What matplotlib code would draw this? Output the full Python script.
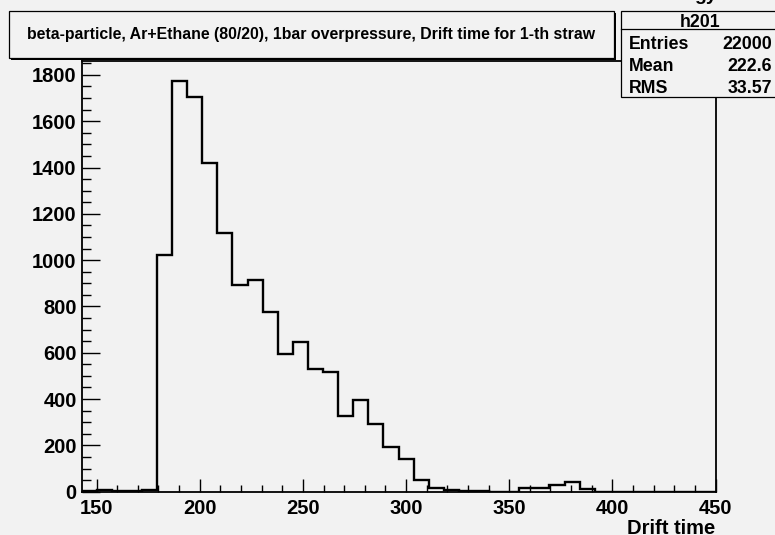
import numpy as np
import matplotlib.pyplot as plt
from matplotlib.patches import Rectangle
from matplotlib.ticker import MultipleLocator

# h201: drift time histogram, 42 bins
x_min, x_max = 142.7, 450.0
counts = [2, 6, 4, 5, 7,
          1022, 1774, 1706, 1418, 1116, 891, 914, 775, 595, 648,
          531, 517, 328, 396, 291, 193, 141, 50, 15, 8,
          5, 2, 0, 0, 17, 17, 28, 40, 10, 0,
          0, 0, 0, 0, 0, 0, 0]
y_max = 1860

title_text = "beta-particle, Ar+Ethane (80/20), 1bar overpressure, Drift time for 1-th straw"
hist_name = "h201"
stat_labels = ["Entries", "Mean", "RMS"]
stat_values = ["22000", "222.6", "33.57"]
x_label = "Drift time"

W, H = 775, 535
bg = '#f2f2f2'
plt.rcParams['font.family'] = ['Liberation Sans', 'DejaVu Sans']
plt.rcParams['font.weight'] = 'bold'


def fx(px):
    return px / W


def fy(py):
    return 1 - py / H


fig = plt.figure(figsize=(W / 100, H / 100), dpi=100, facecolor=bg)
ax = fig.add_axes([fx(81.5), fy(491.7), fx(715.5) - fx(81.5), fy(61) - fy(491.7)])
ax.set_facecolor(bg)

edges = np.linspace(x_min, x_max, len(counts) + 1)
ax.stairs(counts, edges, color='black', lw=1.7)

ax.set_xlim(x_min, x_max)
ax.set_ylim(0, y_max)
ax.xaxis.set_major_locator(MultipleLocator(50))
ax.xaxis.set_minor_locator(MultipleLocator(10))
ax.yaxis.set_major_locator(MultipleLocator(200))
ax.yaxis.set_minor_locator(MultipleLocator(50))
ax.tick_params(axis='both', which='both', direction='in', width=1, colors='black',
               labelsize=14.5)
ax.tick_params(axis='x', which='major', length=9.5, pad=5)
ax.tick_params(axis='x', which='minor', length=5)
ax.tick_params(axis='y', which='major', length=13, pad=3.5)
ax.tick_params(axis='y', which='minor', length=6.5)
for lab in ax.get_xticklabels() + ax.get_yticklabels():
    lab.set_fontweight('bold')
for sp in ax.spines.values():
    sp.set_linewidth(1.3)

fig.text(fx(715), fy(534), x_label, ha='right', va='baseline', fontsize=14.5,
         fontweight='bold')

# title box with shadow
fig.add_artist(Rectangle((fx(11), fy(60)), fx(614) - fx(9), fy(11) - fy(58),
                         transform=fig.transFigure, facecolor='black', edgecolor='none'))
fig.add_artist(Rectangle((fx(9), fy(58)), fx(614) - fx(9), fy(11) - fy(58),
                         transform=fig.transFigure, facecolor=bg, edgecolor='black', lw=0.9))
fig.text(fx(311), fy(39.3), title_text, ha='center', va='baseline', fontsize=11.4,
         fontweight='bold')

# stats box with shadow
fig.add_artist(Rectangle((fx(623), fy(98)), fx(790) - fx(621), fy(10.7) - fy(96.7),
                         transform=fig.transFigure, facecolor='black', edgecolor='none'))
fig.add_artist(Rectangle((fx(621), fy(96.7)), fx(790) - fx(621), fy(10.7) - fy(96.7),
                         transform=fig.transFigure, facecolor=bg, edgecolor='black', lw=0.9))
fig.add_artist(plt.Line2D([fx(621), fx(790)], [fy(29.3), fy(29.3)],
                          transform=fig.transFigure, color='black', lw=0.9))
fig.text(fx(700), fy(26.7), hist_name, ha='center', va='baseline', fontsize=12.8,
         fontweight='bold')
for lab, val, base in zip(stat_labels, stat_values, [49.3, 71, 92.7]):
    fig.text(fx(629), fy(base), lab, ha='left', va='baseline', fontsize=12.8,
             fontweight='bold')
    fig.text(fx(772), fy(base), val, ha='right', va='baseline', fontsize=12.8,
             fontweight='bold')

# clipped text above the stats box
fig.text(fx(717), fy(0), "gy", ha='right', va='baseline', fontsize=14,
         fontweight='bold')

fig.savefig('out.png', dpi=100, facecolor=bg)
